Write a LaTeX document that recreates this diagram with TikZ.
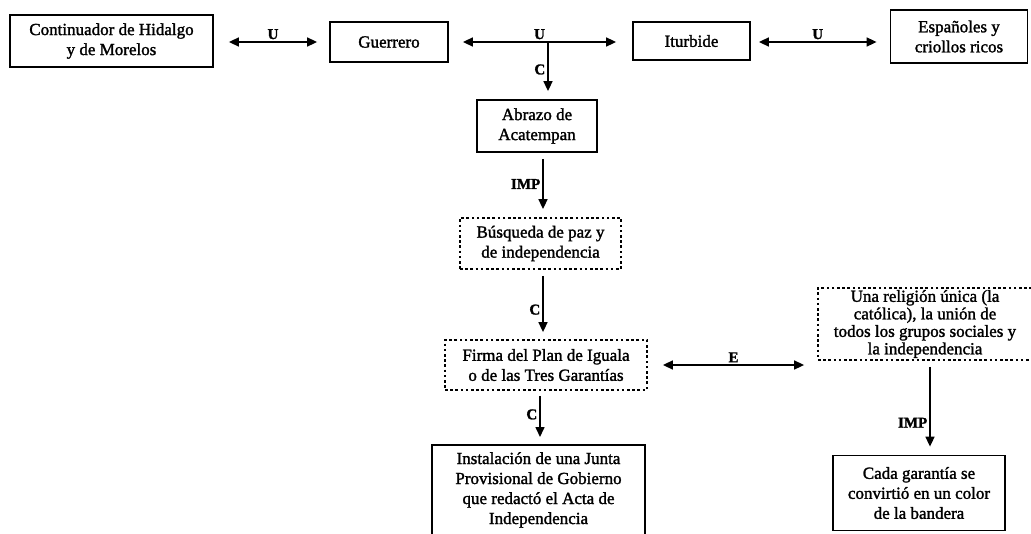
\documentclass[tikz,border=0pt]{standalone}
\usepackage{fontspec}
\setmainfont{Liberation Serif}[RawFeature={embolden=1.6}]
\usetikzlibrary{arrows.meta}
\begin{document}
\begin{tikzpicture}[x=1pt,y=-1pt,
  box/.style={draw,line width=1.8pt,align=center,
    font=\fontsize{17}{20}\selectfont,inner sep=2pt},
  dotbox/.style={box,dash pattern=on 2.6pt off 2.6pt},
  link/.style={line width=1.6pt,-{Triangle[length=10pt,width=9pt]}},
  dlink/.style={line width=1.6pt,{Triangle[length=10pt,width=9pt]}-{Triangle[length=10pt,width=9pt]}},
  lab/.style={font=\fontsize{15}{17}\selectfont\bfseries,inner sep=2pt}]
\useasboundingbox (0,0) rectangle (1031,533);
\fill[white] (0,0) rectangle (1031,533);

% top row
\node[box,minimum width=203pt,minimum height=52pt] (cont) at (111.5,41)
  {Continuador de Hidalgo\\y de Morelos};
\node[box,minimum width=118pt,minimum height=40pt] (guer) at (389,42) {Guerrero};
\node[box,minimum width=117pt,minimum height=38pt] (itur) at (691.5,41) {Iturbide};
\node[box,minimum width=137pt,minimum height=53pt] (esp) at (959,36.5)
  {Españoles y\\criollos ricos};

% central column
\node[box,minimum width=120pt,minimum height=52pt] (abr) at (537,126)
  {Abrazo de\\Acatempan};
\node[dotbox,minimum width=161pt,minimum height=51pt] (busq) at (540.5,243.5)
  {Búsqueda de paz y\\de independencia};
\node[dotbox,minimum width=202pt,minimum height=50pt] (firma) at (546,365)
  {Firma del Plan de Iguala\\o de las Tres Garantías};
\node[align=center,anchor=north,minimum width=213pt,inner ysep=7pt,
  font=\fontsize{17}{20}\selectfont] (inst) at (538.5,445)
  {Instalación de una Junta\\Provisional de Gobierno\\que redactó el Acta de\\Independencia};
% the frame of this box runs on below the lower edge
\draw[line width=1.8pt] (inst.north west) rectangle ([yshift=-20pt]inst.south east);

% right column
\node[dotbox,minimum width=214pt,minimum height=70pt,
  font=\fontsize{17}{17.5}\selectfont] (rel) at (925,324)
  {Una religión única (la\\católica), la unión de\\todos los grupos sociales y\\la independencia};
\node[box,minimum width=172pt,minimum height=75pt] (cada) at (919,493)
  {Cada garantía se\\convirtió en un color\\de la bandera};

% connectors of the top row
\draw[dlink] ([xshift=15pt]cont.east |- guer) -- node[lab,above] {U} ([xshift=-12pt]guer.west);
\draw[dlink] ([xshift=14pt]guer.east) -- node[lab,above] {U} ([xshift=-16pt]itur.west |- guer);
\draw[dlink] ([xshift=8pt]itur.east |- guer) -- node[lab,above] {U} ([xshift=-13pt]esp.west |- guer);

% down the central column
\coordinate (cstart) at (548,43);
\draw[link] (cstart) -- node[lab,left,pos=0.55] {C} ([yshift=8pt]abr.north -| cstart);
\draw[link] ([yshift=-6pt]abr.south -| 543,0) -- node[lab,left,pos=0.5] {IMP} ([yshift=8pt]busq.north -| 543,0);
\draw[link] ([yshift=-6pt]busq.south -| 543,0) -- node[lab,left,pos=0.6] {C} ([yshift=7pt]firma.north -| 543,0);
\draw[link] ([yshift=-5pt]firma.south -| 540,0) -- node[lab,left,pos=0.45] {C} ([yshift=8pt]inst.north -| 540,0);

% across and down the right side
\draw[dlink] ([xshift=15pt]firma.east) -- node[lab,above] {E} ([xshift=-13pt]rel.west |- firma);
\draw[link] ([yshift=-6pt]rel.south -| 930,0) -- node[lab,left,pos=0.7] {IMP} ([yshift=8pt]cada.north -| 930,0);
\end{tikzpicture}
\end{document}
